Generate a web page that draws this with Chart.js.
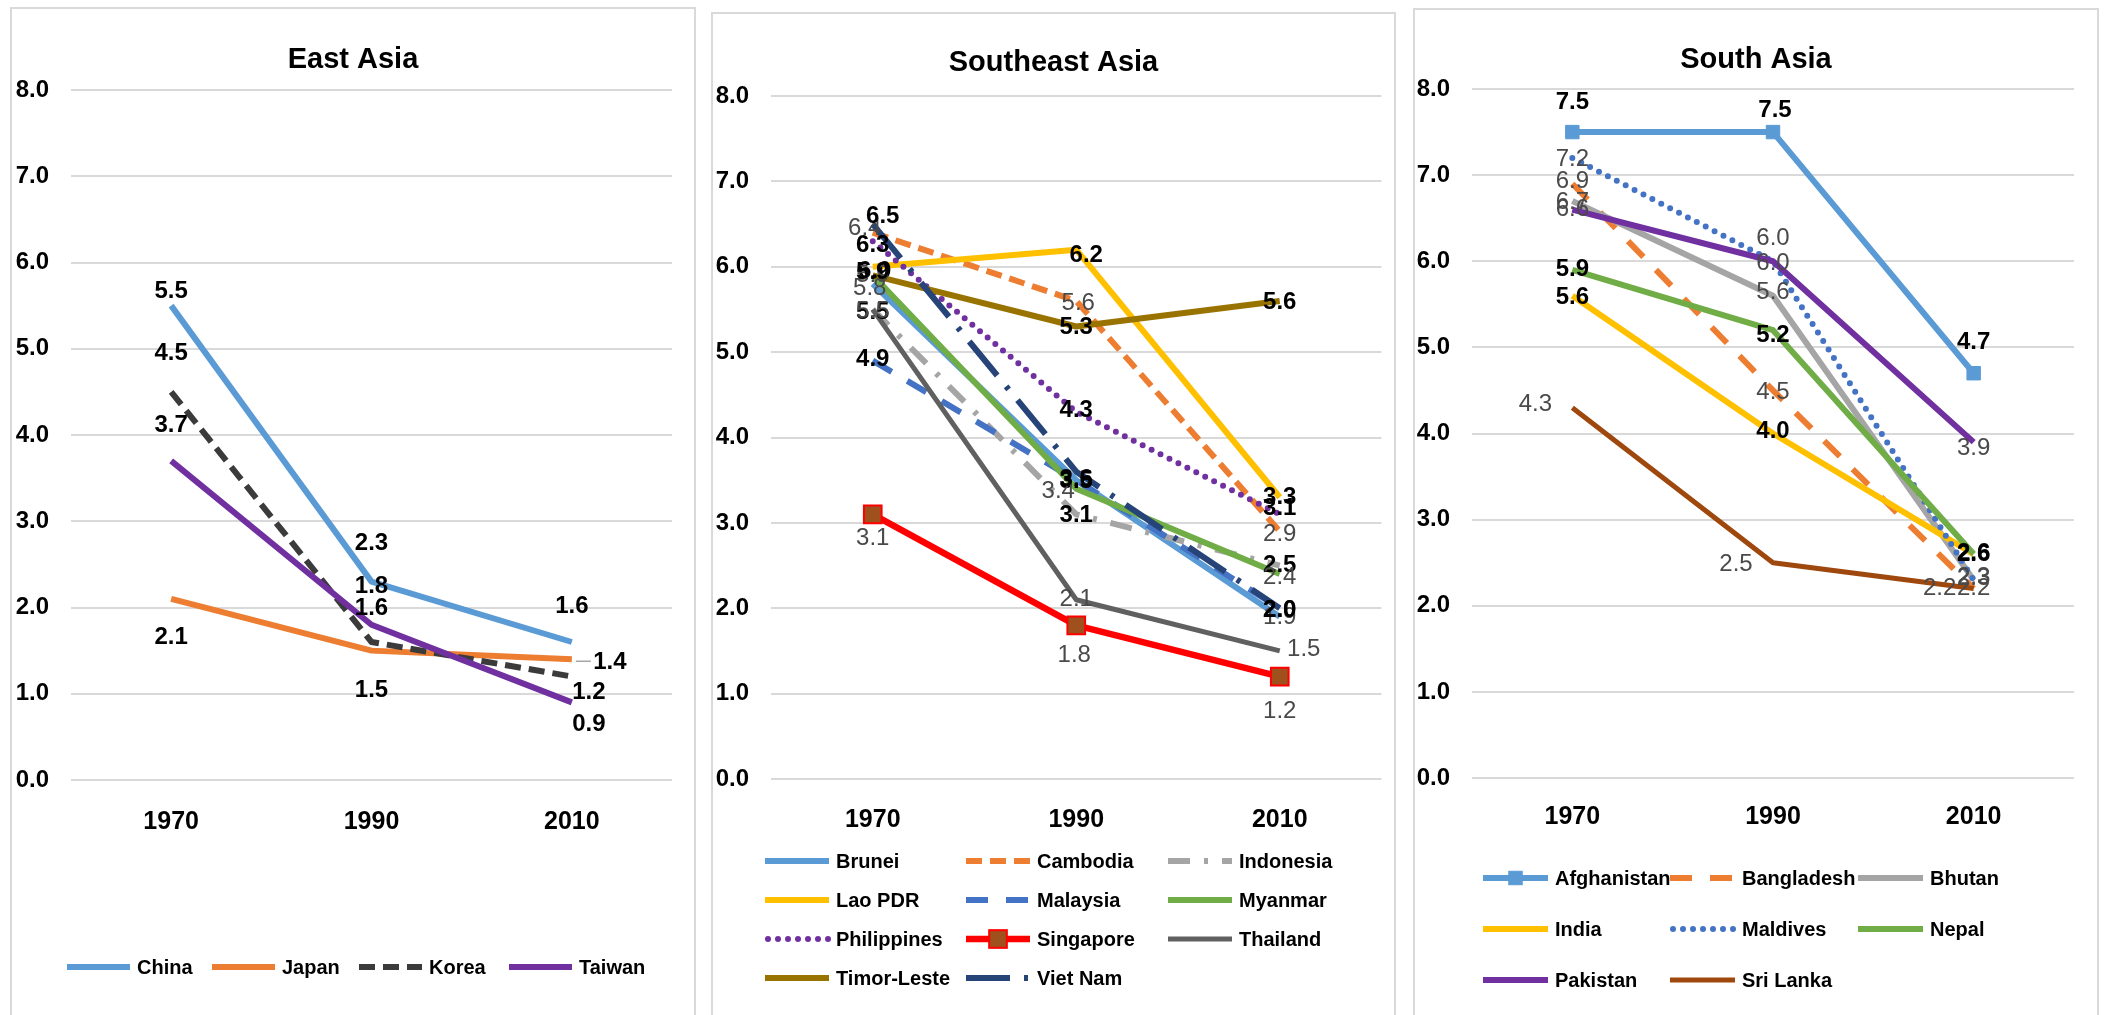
<!DOCTYPE html>
<html>
<head>
<meta charset="utf-8">
<title>Total fertility rate, 1970-2010</title>
<script src="https://cdn.jsdelivr.net/npm/chart.js@4.4.1/dist/chart.umd.min.js"></script>
<style>
  html, body { margin: 0; padding: 0; background: #fff; width: 2107px; height: 1015px; overflow: hidden; }
  .frame { position: absolute; box-sizing: border-box; border: 2px solid #D9D9D9; }
  canvas { position: absolute; }
</style>
</head>
<body>
<div class="frame" style="left:10px;top:7px;width:686px;height:1040px"></div>
<div class="frame" style="left:711px;top:12px;width:685px;height:1040px"></div>
<div class="frame" style="left:1413px;top:8px;width:686px;height:1040px"></div>
<canvas id="eastAsia" width="686" height="1030" style="left:10px;top:7px"></canvas>
<canvas id="southeastAsia" width="685" height="1025" style="left:711px;top:12px"></canvas>
<canvas id="southAsia" width="686" height="1029" style="left:1413px;top:8px"></canvas>

<script>
// ---------- categories and axis labels ----------
const YEARS = ['1970', '1990', '2010'];
const Y_TICK_LABELS = ['0.0', '1.0', '2.0', '3.0', '4.0', '5.0', '6.0', '7.0', '8.0'];

// ---------- East Asia ----------
const EAST_ASIA = ['China', 'Japan', 'Korea', 'Taiwan'];
const china  = [5.5, 2.3, 1.6];
const japan  = [2.1, 1.5, 1.4];
const korea  = [4.5, 1.6, 1.2];
const taiwan = [3.7, 1.8, 0.9];

// ---------- Southeast Asia ----------
const SOUTHEAST_ASIA = ['Brunei', 'Cambodia', 'Indonesia', 'Lao PDR', 'Malaysia', 'Myanmar',
                        'Philippines', 'Singapore', 'Thailand', 'Timor-Leste', 'Viet Nam'];
const brunei      = [5.8, 3.5, 1.9];
const cambodia    = [6.4, 5.6, 2.9];
const indonesia   = [5.5, 3.1, 2.5];
const laoPDR      = [6.0, 6.2, 3.3];
const malaysia    = [4.9, 3.5, 2.0];
const myanmar     = [5.9, 3.4, 2.4];
const philippines = [6.3, 4.3, 3.1];
const singapore   = [3.1, 1.8, 1.2];
const thailand    = [5.5, 2.1, 1.5];
const timorLeste  = [5.9, 5.3, 5.6];
const vietNam     = [6.5, 3.6, 2.0];

// ---------- South Asia ----------
const SOUTH_ASIA = ['Afghanistan', 'Bangladesh', 'Bhutan', 'India', 'Maldives', 'Nepal', 'Pakistan', 'Sri Lanka'];
const afghanistan = [7.5, 7.5, 4.7];
const bangladesh  = [6.9, 4.5, 2.2];
const bhutan      = [6.7, 5.6, 2.3];
const india       = [5.6, 4.0, 2.6];
const maldives    = [7.2, 6.0, 2.3];
const nepal       = [5.9, 5.2, 2.6];
const pakistan    = [6.6, 6.0, 3.9];
const sriLanka    = [4.3, 2.5, 2.2];

const VALUES = {
  'China': china, 'Japan': japan, 'Korea': korea, 'Taiwan': taiwan,
  'Brunei': brunei, 'Cambodia': cambodia, 'Indonesia': indonesia, 'Lao PDR': laoPDR,
  'Malaysia': malaysia, 'Myanmar': myanmar, 'Philippines': philippines, 'Singapore': singapore,
  'Thailand': thailand, 'Timor-Leste': timorLeste, 'Viet Nam': vietNam,
  'Afghanistan': afghanistan, 'Bangladesh': bangladesh, 'Bhutan': bhutan, 'India': india,
  'Maldives': maldives, 'Nepal': nepal, 'Pakistan': pakistan, 'Sri Lanka': sriLanka
};

// ---------- line styles ----------
const DOT = [0, 10];
const STYLE = {
  'China':       { color: '#5B9BD5' },
  'Japan':       { color: '#ED7D31' },
  'Korea':       { color: '#3B3B3B', dash: [16, 8] },
  'Taiwan':      { color: '#7030A0' },
  'Brunei':      { color: '#5B9BD5' },
  'Cambodia':    { color: '#ED7D31', dash: [16, 8] },
  'Indonesia':   { color: '#A5A5A5', dash: [22, 14, 4, 14] },
  'Lao PDR':     { color: '#FFC000' },
  'Malaysia':    { color: '#4472C4', dash: [22, 18] },
  'Myanmar':     { color: '#70AD47' },
  'Philippines': { color: '#7030A0', dash: DOT, cap: 'round' },
  'Singapore':   { color: '#FF0000', width: 6.5, marker: { r: 12.5, fill: '#A0501C', border: '#FF0000', bw: 2 } },
  'Thailand':    { color: '#606060', width: 5 },
  'Timor-Leste': { color: '#997300' },
  'Viet Nam':    { color: '#264478', dash: [44, 14, 4, 14] },
  'Afghanistan': { color: '#5B9BD5', marker: { r: 9.5, fill: '#5B9BD5', border: '#5B9BD5', bw: 1 } },
  'Bangladesh':  { color: '#ED7D31', dash: [22, 18] },
  'Bhutan':      { color: '#A5A5A5' },
  'India':       { color: '#FFC000' },
  'Maldives':    { color: '#4472C4', dash: DOT, cap: 'round' },
  'Nepal':       { color: '#70AD47' },
  'Pakistan':    { color: '#7030A0' },
  'Sri Lanka':   { color: '#9E480E', width: 5 }
};

// ---------- value label placement (offset from each point) ----------
// tone: 'b' = bold black, 'g' = regular dark grey
const LABELS = {
  'China':       { tone: 'b', at: [[0, -14], [0, -38], [0, -36]] },
  'Japan':       { tone: 'b', at: [[0, 38], [0, 40], [38, 3]], leader: 2 },
  'Korea':       { tone: 'b', at: [[0, -39], [0, -34], [17, 16]] },
  'Taiwan':      { tone: 'b', at: [[0, -36], [0, -38], [17, 22]] },

  'Brunei':      { tone: 'g', at: [[-3, 5], [0, 0], [0, 1]] },
  'Cambodia':    { tone: 'g', at: [[-8, -4], [2, 2], [0, 3]] },
  'Indonesia':   { tone: 'b', at: [[0, 3], [0, 1], [0, 0]] },
  'Lao PDR':     { tone: 'b', at: [[2, 5], [10, 6], [0, 0]] },
  'Malaysia':    { tone: 'b', at: [[0, -1], [0, 1], [0, 2]] },
  'Myanmar':     { tone: 'g', at: [[0, 0], [-18, 3], [0, 3]] },
  'Philippines': { tone: 'b', at: [[0, 4], [0, -2], [0, -6]] },
  'Singapore':   { tone: 'g', at: [[0, 24], [-2, 30], [0, 35]] },
  'Thailand':    { tone: 'g', at: [[0, 2], [0, 0], [24, -2]] },
  'Timor-Leste': { tone: 'b', at: [[0, -3], [0, 1], [0, 1]] },
  'Viet Nam':    { tone: 'b', at: [[10, -8], [0, 8], [0, 2]] },

  'Afghanistan': { tone: 'b', at: [[0, -30], [2, -22], [0, -31]] },
  'Bangladesh':  { tone: 'g', at: [[0, -2], [0, 2], [-34, 0]] },
  'Bhutan':      { tone: 'g', at: [[0, 1], [0, -3], [0, -3]] },
  'India':       { tone: 'b', at: [[0, 2], [0, -2], [0, 0]] },
  'Maldives':    { tone: 'g', at: [[0, 1], [0, -23], [0, -2]] },
  'Nepal':       { tone: 'b', at: [[0, 0], [0, 5], [0, -1]] },
  'Pakistan':    { tone: 'g', at: [[0, 0], [0, 2], [0, 6]] },
  'Sri Lanka':   { tone: 'g', at: [[-37, -3], [-37, 2], [0, 0]] }
};

const FONT = "'Liberation Sans', Arial, sans-serif";
Chart.defaults.font.family = FONT;
Chart.defaults.color = '#000';

// Titles, value labels and legend drawn on the canvas
const panelDecor = {
  id: 'panelDecor',
  afterDatasetsDraw(chart) {
    const ctx = chart.ctx;
    ctx.save();
    ctx.textAlign = 'center';
    ctx.textBaseline = 'middle';
    chart.data.datasets.forEach((ds, di) => {
      const lab = LABELS[ds.label];
      const meta = chart.getDatasetMeta(di);
      meta.data.forEach((pt, i) => {
        const [dx, dy] = lab.at[i];
        const txt = ds.data[i].toFixed(1);
        if (lab.leader === i) {
          ctx.strokeStyle = '#A6A6A6';
          ctx.lineWidth = 1.5;
          ctx.setLineDash([]);
          ctx.beginPath();
          ctx.moveTo(pt.x + 4, pt.y + 2);
          ctx.lineTo(pt.x + dx - 19, pt.y + 2);
          ctx.stroke();
        }
        ctx.font = (lab.tone === 'b' ? 'bold ' : '') + '24px ' + FONT;
        ctx.fillStyle = lab.tone === 'b' ? '#000' : '#4A4A4A';
        ctx.fillText(txt, pt.x + dx, pt.y + dy);
      });
    });
    ctx.restore();
  },
  afterDraw(chart, args, opts) {
    const ctx = chart.ctx;
    ctx.save();
    // panel title
    ctx.font = 'bold 29px ' + FONT;
    ctx.fillStyle = '#000';
    ctx.textAlign = 'center';
    ctx.textBaseline = 'middle';
    ctx.fillText(opts.title, chart.width / 2, opts.titleY);

    // legend
    ctx.textAlign = 'left';
    ctx.font = 'bold 20px ' + FONT;
    chart.data.datasets.forEach((ds, i) => {
      const col = i % opts.cols.length;
      const row = Math.floor(i / opts.cols.length);
      const x = opts.cols[col];
      const y = opts.rows[row];
      const st = STYLE[ds.label];
      ctx.strokeStyle = st.color;
      ctx.lineWidth = st.width || 6;
      ctx.lineCap = st.cap || 'butt';
      ctx.setLineDash(st.dash || []);
      ctx.beginPath();
      ctx.moveTo(x + (st.cap ? 3 : 0), y);
      ctx.lineTo(x + opts.lineLen, y);
      ctx.stroke();
      ctx.setLineDash([]);
      if (st.marker) {
        const m = st.marker;
        const s = m.r * Math.SQRT1_2;
        const cx = x + opts.lineLen / 2;
        ctx.fillStyle = m.fill;
        ctx.fillRect(cx - s, y - s, 2 * s, 2 * s);
        ctx.strokeStyle = m.border;
        ctx.lineWidth = m.bw;
        ctx.strokeRect(cx - s, y - s, 2 * s, 2 * s);
      }
      ctx.fillStyle = '#000';
      ctx.fillText(ds.label, x + opts.lineLen + 7, y + 1);
    });
    ctx.restore();
  }
};

function buildDatasets(names) {
  const n = names.length;
  return names.map((name, i) => {
    const st = STYLE[name];
    const m = st.marker;
    return {
      label: name,
      data: VALUES[name],
      borderColor: st.color,
      backgroundColor: st.color,
      borderWidth: st.width || 6,
      borderDash: st.dash || [],
      borderCapStyle: st.cap || 'butt',
      borderJoinStyle: 'round',
      tension: 0,
      fill: false,
      pointStyle: 'rect',
      pointRadius: m ? m.r : 0,
      pointHoverRadius: m ? m.r : 0,
      pointBackgroundColor: m ? m.fill : st.color,
      pointBorderColor: m ? m.border : st.color,
      pointBorderWidth: m ? m.bw : 0,
      order: n - 1 - i      // later series drawn on top
    };
  });
}

function makePanel(id, names, geo, decor) {
  new Chart(document.getElementById(id), {
    type: 'line',
    data: { labels: YEARS, datasets: buildDatasets(names) },
    plugins: [panelDecor],
    options: {
      responsive: false,
      animation: false,
      events: [],
      layout: { padding: { left: 0, right: geo.right, top: geo.top, bottom: geo.bottom } },
      plugins: {
        legend: { display: false },
        title: { display: false },
        tooltip: { enabled: false },
        panelDecor: decor
      },
      scales: {
        x: {
          offset: true,
          grid: { display: false, drawTicks: false },
          border: { display: false },
          ticks: { font: { size: 25, weight: 'bold', lineHeight: 1.2 }, color: '#000', padding: geo.xPad, maxRotation: 0 },
          afterFit(s) { s.height = 60; }
        },
        y: {
          min: 0, max: 8,
          grid: { color: '#D9D9D9', lineWidth: 2, drawTicks: false },
          border: { display: false },
          ticks: {
            stepSize: 1,
            font: { size: 24, weight: 'bold' },
            color: '#000',
            padding: 22,
            callback: (v, i) => Y_TICK_LABELS[i]
          },
          afterFit(s) { s.width = geo.yWidth; }
        }
      }
    }
  });
}

makePanel('eastAsia', EAST_ASIA,
  { right: 24, top: 83, bottom: 197, yWidth: 61, xPad: 27 },
  { title: 'East Asia', titleY: 53, cols: [57, 202, 349, 499], rows: [960], lineLen: 63 });

makePanel('southeastAsia', SOUTHEAST_ASIA,
  { right: 13, top: 84, bottom: 198, yWidth: 60, xPad: 26 },
  { title: 'Southeast Asia', titleY: 51, cols: [54, 255, 457], rows: [849, 888, 927, 966], lineLen: 64 });

makePanel('southAsia', SOUTH_ASIA,
  { right: 25, top: 81, bottom: 199, yWidth: 59, xPad: 24 },
  { title: 'South Asia', titleY: 52, cols: [70, 257, 445], rows: [870, 921, 972], lineLen: 65 });
</script>
</body>
</html>
